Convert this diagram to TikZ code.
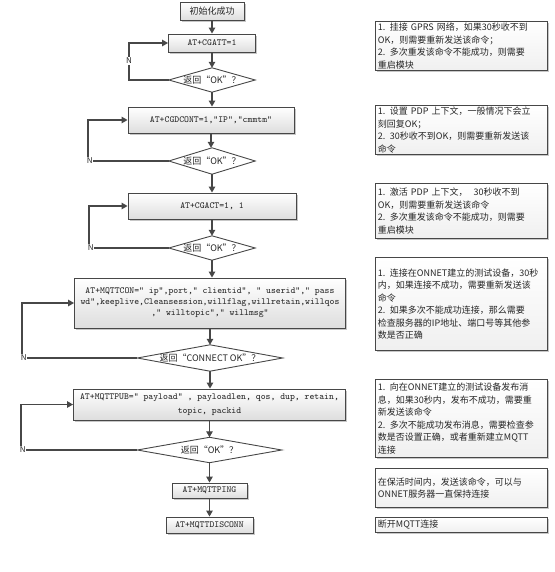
\documentclass[tikz,border=0pt]{standalone}
\usepackage{fontspec}
\setmainfont{Noto Sans CJK SC}
\setmonofont{Latin Modern Mono}
\usetikzlibrary{arrows.meta,shadows,backgrounds}
\definecolor{lc}{HTML}{474747}
\tikzset{
  x=1pt, y=-1pt,
  box/.style={draw=lc, line width=0.9pt, top color=white, bottom color=black!13,
    drop shadow={shadow xshift=1.6pt, shadow yshift=-1.6pt, fill=black!40, opacity=0.55},
    inner sep=1pt, align=center, text=black!85,
    font=\ttfamily\fontsize{9.3}{11}\selectfont},
  startbox/.style={box, font=\fontsize{9}{11}\selectfont},
  dia/.style={rectangle, inner sep=0pt, text=black!85, font=\fontsize{9}{11}\selectfont},
  diashape/.style={draw=lc, line width=0.9pt, fill=white},
  note/.style={draw=lc, line width=0.9pt, top color=white, bottom color=black!6,
    drop shadow={shadow xshift=1.6pt, shadow yshift=-1.6pt, fill=black!40, opacity=0.55},
    anchor=north west, text width=167pt, inner xsep=2.5pt, inner ysep=1pt,
    align=left, text=black!85, font=\fontsize{9}{12.5}\selectfont},
  arr/.style={draw=lc, line width=1.2pt, -{Triangle[length=6pt,width=6.5pt]}},
  nlab/.style={fill=white, inner sep=0.6pt, text=black!85, font=\fontsize{8}{9}\selectfont},
}
\begin{document}
\begin{tikzpicture}
\useasboundingbox (0,0) rectangle (554,572);

% flowchart nodes
\node[startbox, minimum width=64pt, minimum height=18pt] (init) at (212,11) {初始化成功};
\node[box, minimum width=87pt, minimum height=18pt] (cgatt) at (212,43) {AT+CGATT=1};
\node[dia, minimum width=86pt, minimum height=24pt] (d1) at (212,80) {返回“OK”？};
\node[box, minimum width=166pt, minimum height=26pt] (cgdcont) at (211,120) {AT+CGDCONT=1,"IP","cmmtm"};
\node[dia, minimum width=86pt, minimum height=26pt] (d2) at (212,161) {返回“OK”？};
\node[box, minimum width=168pt, minimum height=26pt] (cgact) at (212,206) {AT+CGACT=1, 1};
\node[dia, minimum width=86pt, minimum height=24pt] (d3) at (212,248) {返回“OK”？};
\node[box, minimum width=271pt, minimum height=50pt] (mqttcon) at (210,303)
  {AT+MQTTCON=" ip",port," clientid", " userid"," pass\\
   wd",keeplive,Cleansession,willflag,willretain,willqos\\
   ," willtopic"," willmsg"};
\node[dia, minimum width=145pt, minimum height=26pt] (d4) at (210,358) {返回“CONNECT OK”？};
\node[box, minimum width=272pt, minimum height=31pt, font=\ttfamily\fontsize{9.3}{13.5}\selectfont] (pub) at (209.5,404.5)
  {AT+MQTTPUB=" payload" , payloadlen, qos, dup, retain,\\ topic, packid};
\node[dia, minimum width=144pt, minimum height=25pt] (d5) at (209.5,450) {返回“OK”？};
\node[box, minimum width=75pt, minimum height=15pt] (ping) at (209.5,490.5) {AT+MQTTPING};
\node[box, minimum width=87pt, minimum height=16pt] (disc) at (209.5,525) {AT+MQTTDISCONN};

% diamond outlines
\begin{scope}[on background layer]
\foreach \d in {d1,d2,d3,d4,d5}
  \draw[diashape] (\d.north) -- (\d.east) -- (\d.south) -- (\d.west) -- cycle;
\end{scope}

% main flow
\draw[arr] (init.south) -- (init.south |- cgatt.north);
\draw[arr] (cgatt.south) -- (cgatt.south |- d1.north);
\draw[arr] (d1.south) -- (d1.south |- cgdcont.north);
\draw[arr] (cgdcont.south) -- (cgdcont.south |- d2.north);
\draw[arr] (d2.south) -- (d2.south |- cgact.north);
\draw[arr] (cgact.south) -- (cgact.south |- d3.north);
\draw[arr] (d3.south) -- (d3.south |- mqttcon.north);
\draw[arr] (mqttcon.south) -- (mqttcon.south |- d4.north);
\draw[arr] (d4.south) -- (d4.south |- pub.north);
\draw[arr] (pub.south) -- (pub.south |- d5.north);
\draw[arr] (d5.south) -- (d5.south |- ping.north);
\draw[arr] (ping.south) -- (ping.south |- disc.north);

% retry loops
\coordinate (c1) at (129,80);
\coordinate (c2) at (88,161);
\coordinate (c3) at (89,248);
\coordinate (c4) at (22,358);
\coordinate (c5) at (21,450);
\draw[arr] (d1.west) -- (c1) |- (cgatt.west);
\draw[arr] (d2.west) -- (c2) |- (cgdcont.west);
\draw[arr] (d3.west) -- (c3) |- (cgact.west);
\draw[arr] (d4.west) -- (c4) |- (mqttcon.west);
\draw[arr] (d5.west) -- (c5) |- (pub.west);
\node[nlab] (n1) at (129,61) {N};
\node[nlab, anchor=west] (n2) at (86,161) {N};
\node[nlab, anchor=west] (n3) at (87,248) {N};
\node[nlab, anchor=west] (n4) at (20,358) {N};
\node[nlab, anchor=west] (n5) at (19,450) {N};

% notes
\node[note, minimum height=49pt] (t1) at (375,21)
  {1. 挂接 GPRS 网络，如果30秒收不到\\OK，则需要重新发送该命令；\\2. 多次重发该命令不能成功，则需要\\重启模块};
\node[note, minimum height=49pt] (t2) at (375,105)
  {1. 设置 PDP 上下文，一般情况下会立\\刻回复OK；\\2. 30秒收不到OK，则需要重新发送该\\命令};
\node[note, minimum height=55pt] (t3) at (375,183)
  {1. 激活 PDP 上下文，\ \ 30秒收不到\\OK，则需要重新发送该命令\\2. 多次重发该命令不能成功，则需要\\重启模块};
\node[note, minimum height=93pt] (t4) at (375,257)
  {1. 连接在ONNET建立的测试设备，30秒\\内，如果连接不成功，需要重新发送该\\命令\\2. 如果多次不能成功连接，那么需要\\检查服务器的IP地址、端口号等其他参\\数是否正确};
\node[note, minimum height=78pt] (t5) at (375,379)
  {1. 向在ONNET建立的测试设备发布消\\息，如果30秒内，发布不成功，需要重\\新发送该命令\\2. 多次不能成功发布消息，需要检查参\\数是否设置正确，或者重新建立MQTT\\连接};
\node[note, minimum height=39pt] (t6) at (375,468)
  {在保活时间内，发送该命令，可以与\\ONNET服务器一直保持连接};
\node[note, minimum height=15pt] (t7) at (375,517)
  {断开MQTT连接};
\end{tikzpicture}
\end{document}
